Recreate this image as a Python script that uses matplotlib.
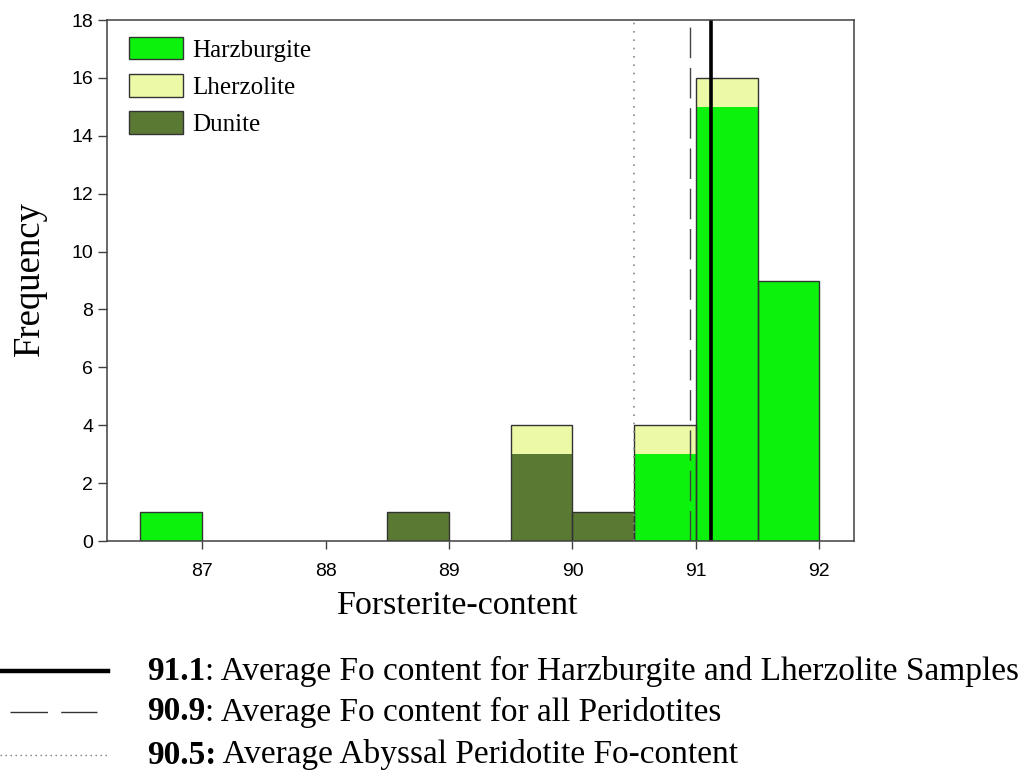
import numpy as np
import matplotlib
matplotlib.use("Agg")
import matplotlib.pyplot as plt
from matplotlib.lines import Line2D
from matplotlib.patches import Patch

# Histogram bins (left edges, width 0.5) and counts per lithology
bin_left = [86.5, 87.0, 87.5, 88.0, 88.5, 89.0, 89.5, 90.0, 90.5, 91.0, 91.5]
bin_width = 0.5
dunite = [0, 0, 0, 0, 1, 0, 3, 1, 0, 0, 0]
harzburgite = [1, 0, 0, 0, 0, 0, 0, 0, 3, 15, 9]
lherzolite = [0, 0, 0, 0, 0, 0, 1, 0, 1, 1, 0]

# Reference averages (Fo content)
avg_harz_lherz = 91.12
avg_all = 90.95
avg_abyssal = 90.5

x_ticks = [87, 88, 89, 90, 91, 92]
y_ticks = list(range(0, 19, 2))

c_harz = "#0cf20c"
c_lherz = "#ecf9a6"
c_dun = "#5a7a34"
edge = "#333333"

serif = "Liberation Serif"
sans = "Liberation Sans"

fig = plt.figure(figsize=(10.23, 7.72), dpi=100)
ax = fig.add_axes([0.1046, 0.2992, 0.7302, 0.6748])

x = np.array(bin_left)
d = np.array(dunite)
h = np.array(harzburgite)
l = np.array(lherzolite)
total = d + h + l
mask = total > 0

ax.bar(x[mask], d[mask], width=bin_width, align="edge", color=c_dun, linewidth=0)
ax.bar(x[mask], h[mask], bottom=d[mask], width=bin_width, align="edge",
       color=c_harz, linewidth=0)
ax.bar(x[mask], l[mask], bottom=(d + h)[mask], width=bin_width, align="edge",
       color=c_lherz, linewidth=0)
# outline around each stacked bar
ax.bar(x[mask], total[mask], width=bin_width, align="edge", fill=False,
       edgecolor=edge, linewidth=1.0)

ax.axvline(avg_abyssal, color="#888888", linestyle=(0, (1, 4)), linewidth=1.2)
ax.axvline(avg_all, color="#444444", linestyle=(0, (22, 7)), linewidth=1.0)
ax.axvline(avg_harz_lherz, color="black", linestyle="-", linewidth=2.6)

ax.set_xlim(86.23, 92.28)
ax.set_ylim(0, 18)
ax.set_xticks(x_ticks)
ax.set_yticks(y_ticks)
for s in ax.spines.values():
    s.set_color("#404040")
    s.set_linewidth(1.1)
ax.tick_params(axis="x", direction="out", length=5.5, width=1, color="#404040",
               labelsize=14, pad=10)
ax.tick_params(axis="y", direction="out", length=6.5, width=1, color="#404040",
               labelsize=14, pad=3.5)
for lab in ax.get_xticklabels() + ax.get_yticklabels():
    lab.set_fontfamily(sans)

ax.set_xlabel("Forsterite-content", fontfamily=serif, fontsize=24.5)
ax.set_ylabel("Frequency", fontfamily=serif, fontsize=26.5)
ax.xaxis.set_label_coords(0.47, -0.095)
ax.yaxis.set_label_coords(-0.081, 0.504)

handles = [Patch(facecolor=c_harz, edgecolor=edge, linewidth=1.0),
           Patch(facecolor=c_lherz, edgecolor=edge, linewidth=1.0),
           Patch(facecolor=c_dun, edgecolor=edge, linewidth=1.0)]
ax.legend(handles, ["Harzburgite", "Lherzolite", "Dunite"], loc="upper left",
          frameon=False, prop={"family": serif, "size": 18},
          handlelength=2.15, handleheight=1.0, labelspacing=0.5,
          handletextpad=0.35, borderaxespad=0.0, borderpad=0.3,
          bbox_to_anchor=(0.02, 0.982))

# Key for the vertical reference lines
W, H = 1023, 772
rows = [
    (671, dict(color="black", linewidth=3.2, linestyle="-"), (0, 108),
     "91.1", ": Average Fo content for Harzburgite and Lherzolite Samples"),
    (712, dict(color="#333333", linewidth=1.0, linestyle=(0, (27, 9.5))), (10, 97),
     "90.9", ": Average Fo content for all Peridotites"),
    (755, dict(color="#777777", linewidth=1.0, linestyle=(0, (1, 2.6))), (0, 108),
     "90.5:", " Average Abyssal Peridotite Fo-content"),
]
for ypix, style, (x0, x1), bold, rest in rows:
    yf = 1 - ypix / H
    fig.add_artist(Line2D([x0 / W, x1 / W], [yf, yf], transform=fig.transFigure, **style))
    t = fig.text(147 / W, yf, bold, fontfamily=serif, fontsize=24,
                 fontweight="bold", va="center", ha="left")
    fig.canvas.draw()
    bb = t.get_window_extent()
    fig.text(bb.x1 / W, yf, rest, fontfamily=serif, fontsize=24,
             va="center", ha="left")

fig.savefig("out.png", dpi=100)
